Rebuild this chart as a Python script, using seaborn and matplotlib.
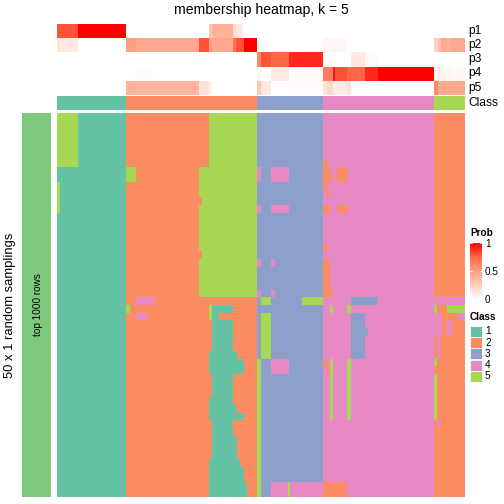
import numpy as np
import seaborn as sns
import matplotlib.pyplot as plt
from matplotlib.colors import ListedColormap, LinearSegmentedColormap
from matplotlib.patches import Rectangle

# class colours (1..5) and probability colour ramp
class_names = ["1", "2", "3", "4", "5"]
class_colors = ["#66C2A5", "#FC8D62", "#8DA0CB", "#E78AC3", "#A6D854"]
prob_colors = ["#FFFFFF", "#FFCFBF", "#FF9E81", "#FF6746", "#FF0000"]

# top annotation: column segments (end index) with p1..p5 and class
seg_end = [3, 21, 69, 79, 96, 142, 152, 155, 176, 179, 185, 187, 200,
           204, 214, 232, 235, 266, 270, 276, 278, 290, 294, 308, 321, 377,
           381, 384, 390, 394, 400, 408]
p1 = [0.8, 0.8, 1.0, 0, 0, 0, 0, 0.3, 0.4, 0.2, 0.12, 0.05, 0,
      0, 0, 0, 0, 0, 0, 0, 0, 0, 0, 0, 0, 0,
      0, 0, 0, 0, 0, 0]
p2 = [0.15, 0.12, 0, 0.5, 0.45, 0.45, 0.8, 0.5, 0.45, 0.7, 0.8, 0.8, 1.0,
      0, 0, 0, 0, 0, 0.06, 0.04, 0.04, 0.04, 0, 0, 0, 0,
      0.25, 0.35, 0.45, 0.4, 0.45, 0.45]
p3 = [0, 0, 0, 0, 0, 0, 0, 0, 0, 0, 0, 0, 0,
      0.6, 0.8, 0.75, 0.9, 0.9, 0, 0, 0, 0, 0, 0.12, 0.03, 0,
      0, 0, 0, 0, 0, 0]
p4 = [0, 0, 0, 0, 0.03, 0, 0, 0, 0, 0, 0, 0, 0,
      0.05, 0, 0.12, 0, 0.03, 0.65, 0.65, 0.95, 0.8, 0.75, 0.75, 0.9, 1.0,
      0.06, 0.1, 0.04, 0.05, 0.03, 0.05]
p5 = [0, 0, 0, 0.4, 0.38, 0.38, 0.15, 0.08, 0, 0, 0, 0, 0,
      0.3, 0.12, 0, 0.03, 0.02, 0.15, 0.2, 0.1, 0.1, 0.15, 0, 0, 0,
      0.6, 0.45, 0.45, 0.45, 0.45, 0.45]
seg_class = [1, 1, 1, 2, 2, 2, 2, 2, 2, 2, 2, 2, 2,
             3, 3, 3, 3, 3, 4, 4, 4, 4, 4, 4, 4, 4,
             5, 5, 5, 5, 5, 5]

# 50 random samplings: (number of rows, [(class, run end), ...])
row_runs = [
    (6, [(5, 21), (1, 69), (2, 152), (5, 200), (3, 266), (4, 377), (2, 408)]),
    (1, [(5, 21), (1, 69), (2, 152), (5, 200), (3, 266), (2, 270), (4, 377), (2, 408)]),
    (1, [(1, 69), (5, 79), (2, 142), (5, 200), (4, 204), (3, 214), (4, 232), (3, 266), (2, 273), (4, 280), (2, 290), (4, 377), (2, 408)]),
    (1, [(1, 69), (5, 79), (2, 142), (5, 200), (4, 204), (3, 214), (4, 232), (3, 266), (2, 276), (4, 280), (2, 290), (4, 377), (2, 408)]),
    (1, [(5, 3), (1, 69), (2, 142), (5, 200), (3, 266), (2, 270), (4, 377), (2, 408)]),
    (1, [(5, 3), (1, 69), (2, 142), (5, 200), (3, 266), (4, 270), (2, 273), (4, 377), (2, 408)]),
    (1, [(5, 3), (1, 69), (2, 145), (5, 200), (3, 266), (4, 377), (2, 408)]),
    (1, [(5, 3), (1, 69), (2, 142), (5, 200), (4, 204), (3, 214), (4, 232), (3, 266), (2, 273), (4, 280), (2, 290), (4, 377), (2, 408)]),
    (4, [(1, 69), (2, 142), (5, 200), (3, 266), (4, 377), (2, 408)]),
    (1, [(1, 69), (2, 142), (5, 200), (3, 266), (2, 270), (4, 377), (2, 408)]),
    (1, [(1, 69), (2, 145), (5, 200), (3, 266), (4, 377), (2, 408)]),
    (1, [(1, 69), (2, 142), (5, 200), (4, 204), (3, 214), (4, 218), (3, 266), (2, 273), (4, 377), (2, 408)]),
    (3, [(1, 69), (2, 142), (5, 200), (3, 266), (2, 273), (4, 377), (2, 408)]),
    (1, [(1, 69), (2, 142), (5, 200), (4, 204), (3, 214), (4, 218), (3, 266), (2, 276), (4, 377), (2, 408)]),
    (1, [(1, 69), (2, 79), (4, 97), (2, 200), (3, 204), (5, 214), (3, 245), (5, 266), (4, 294), (3, 321), (4, 408)]),
    (1, [(1, 69), (5, 73), (2, 152), (5, 155), (1, 176), (2, 200), (3, 266), (4, 273), (5, 276), (4, 290), (5, 294), (4, 377), (5, 380), (2, 390), (5, 408)]),
    (1, [(1, 69), (2, 79), (4, 90), (2, 152), (5, 155), (1, 162), (2, 200), (3, 204), (5, 214), (3, 266), (4, 294), (3, 308), (4, 385), (2, 401), (4, 408)]),
    (1, [(1, 69), (2, 155), (1, 176), (2, 200), (3, 204), (5, 214), (3, 266), (4, 294), (3, 308), (4, 385), (2, 390), (4, 395), (2, 408)]),
    (1, [(1, 69), (2, 155), (1, 176), (2, 200), (3, 204), (5, 214), (3, 266), (4, 294), (3, 311), (4, 385), (2, 390), (4, 395), (2, 408)]),
    (2, [(1, 69), (2, 155), (1, 176), (2, 200), (3, 204), (5, 214), (3, 266), (4, 294), (3, 308), (4, 377), (2, 380), (4, 383), (2, 408)]),
    (1, [(1, 69), (2, 152), (1, 180), (2, 200), (3, 204), (5, 214), (3, 266), (4, 294), (3, 308), (4, 377), (2, 380), (4, 383), (2, 408)]),
    (1, [(1, 69), (2, 152), (1, 187), (2, 200), (5, 204), (3, 214), (4, 232), (3, 266), (2, 270), (4, 273), (5, 276), (4, 290), (5, 294), (4, 377), (5, 380), (2, 408)]),
    (1, [(1, 69), (2, 152), (1, 187), (2, 200), (5, 204), (3, 214), (4, 232), (3, 266), (4, 270), (2, 273), (5, 276), (4, 290), (5, 294), (4, 377), (2, 408)]),
    (3, [(1, 69), (2, 155), (1, 176), (2, 200), (5, 204), (3, 266), (4, 273), (5, 276), (4, 290), (5, 294), (4, 377), (5, 380), (2, 408)]),
    (1, [(1, 69), (2, 152), (1, 176), (2, 200), (5, 204), (3, 266), (4, 273), (5, 276), (4, 290), (5, 294), (4, 377), (5, 380), (2, 408)]),
    (1, [(1, 69), (2, 152), (1, 180), (2, 200), (5, 204), (3, 266), (4, 273), (5, 276), (4, 290), (5, 294), (4, 377), (5, 380), (2, 408)]),
    (1, [(1, 69), (2, 152), (1, 187), (2, 200), (5, 204), (3, 266), (4, 273), (5, 276), (4, 290), (5, 294), (4, 377), (5, 380), (2, 408)]),
    (1, [(1, 69), (2, 155), (1, 176), (2, 200), (5, 204), (3, 266), (4, 377), (2, 380), (4, 383), (2, 408)]),
    (1, [(1, 69), (2, 155), (1, 176), (2, 200), (5, 204), (3, 266), (4, 377), (2, 408)]),
    (3, [(1, 69), (2, 155), (1, 180), (2, 200), (5, 204), (3, 266), (4, 377), (2, 408)]),
    (1, [(1, 69), (2, 152), (1, 183), (2, 200), (5, 204), (3, 266), (4, 377), (2, 408)]),
    (2, [(1, 69), (2, 152), (1, 187), (2, 200), (5, 204), (3, 266), (4, 377), (2, 408)]),
    (2, [(1, 69), (2, 152), (1, 190), (2, 200), (5, 204), (3, 214), (4, 231), (5, 233), (4, 266), (2, 290), (4, 377), (2, 408)]),
]


def expand(runs):
    row = []
    start = 0
    for cls, end in runs:
        row += [cls] * (end - start)
        start = end
    return row


widths = np.diff([0] + seg_end)
top = np.array([np.repeat(p, widths) for p in (p1, p2, p3, p4, p5)])
cls_bar = np.repeat(seg_class, widths)[None, :]
main = np.array([expand(runs) for n, runs in row_runs for _ in range(n)])

plt.rcParams['font.family'] = ['Liberation Sans', 'DejaVu Sans']
class_cmap = ListedColormap(class_colors)
prob_cmap = LinearSegmentedColormap.from_list("prob", prob_colors)

W = 504.0


def box(x0, y0, x1, y1):
    return [x0 / W, 1 - y1 / W, (x1 - x0) / W, (y1 - y0) / W]


fig = plt.figure(figsize=(7, 7), dpi=72)
ax_top = fig.add_axes(box(57, 24, 465, 95))
ax_cls = fig.add_axes(box(57, 96, 465, 110))
ax_main = fig.add_axes(box(57, 113, 465, 497))
ax_bar = fig.add_axes(box(22, 113, 51, 497))
cax = fig.add_axes(box(470, 243, 482, 299))

sns.heatmap(top, ax=ax_top, cmap=prob_cmap, vmin=0, vmax=1, cbar_ax=cax,
            xticklabels=False, yticklabels=False)
sns.heatmap(cls_bar, ax=ax_cls, cmap=class_cmap, vmin=0.5, vmax=5.5, cbar=False,
            xticklabels=False, yticklabels=False)
sns.heatmap(main, ax=ax_main, cmap=class_cmap, vmin=0.5, vmax=5.5, cbar=False,
            xticklabels=False, yticklabels=False)

cb = ax_top.collections[0].colorbar
cb.outline.set_visible(False)
cb.set_ticks([0, 0.5, 1])
cb.set_ticklabels(["0", "0.5", "1"])
cax.tick_params(length=0, labelsize=10, pad=3)
for v in [0.5, 1]:
    cax.plot([0, 0.15], [v, v], color="white", lw=0.8, transform=cax.get_yaxis_transform())
    cax.plot([0.85, 1], [v, v], color="white", lw=0.8, transform=cax.get_yaxis_transform())

ax_bar.set_facecolor("#7FC97F")
ax_bar.set_xticks([])
ax_bar.set_yticks([])
for s in ax_bar.spines.values():
    s.set_visible(False)
ax_bar.text(0.55, 0.5, "top 1000 rows", rotation=90, ha="center", va="center",
            fontsize=10, transform=ax_bar.transAxes)

fig.text(10 / W, 1 - 305 / W, "50 x 1 random samplings", rotation=90,
         ha="center", va="center", fontsize=13)
fig.text(261 / W, 1 - 10 / W, "membership heatmap, k = 5", ha="center", va="center",
         fontsize=14)

for i, name in enumerate(["p1", "p2", "p3", "p4", "p5", "Class"]):
    yc = [31, 45, 59, 73, 88, 103][i]
    fig.text(468 / W, 1 - yc / W, name, ha="left", va="center", fontsize=12)

fig.text(470 / W, 1 - 233 / W, "Prob", ha="left", va="center", fontsize=10,
         fontweight="bold")
fig.text(470 / W, 1 - 317 / W, "Class", ha="left", va="center", fontsize=10,
         fontweight="bold")
for i, (name, col) in enumerate(zip(class_names, class_colors)):
    y0 = 326 + i * 11.2
    fig.patches.append(Rectangle((470 / W, 1 - (y0 + 11) / W), 12 / W, 11 / W,
                                 transform=fig.transFigure, facecolor=col,
                                 edgecolor="white", lw=0.8))
    fig.text(485 / W, 1 - (y0 + 5.5) / W, name, ha="left", va="center", fontsize=10)

fig.savefig("out.png", dpi=72)
